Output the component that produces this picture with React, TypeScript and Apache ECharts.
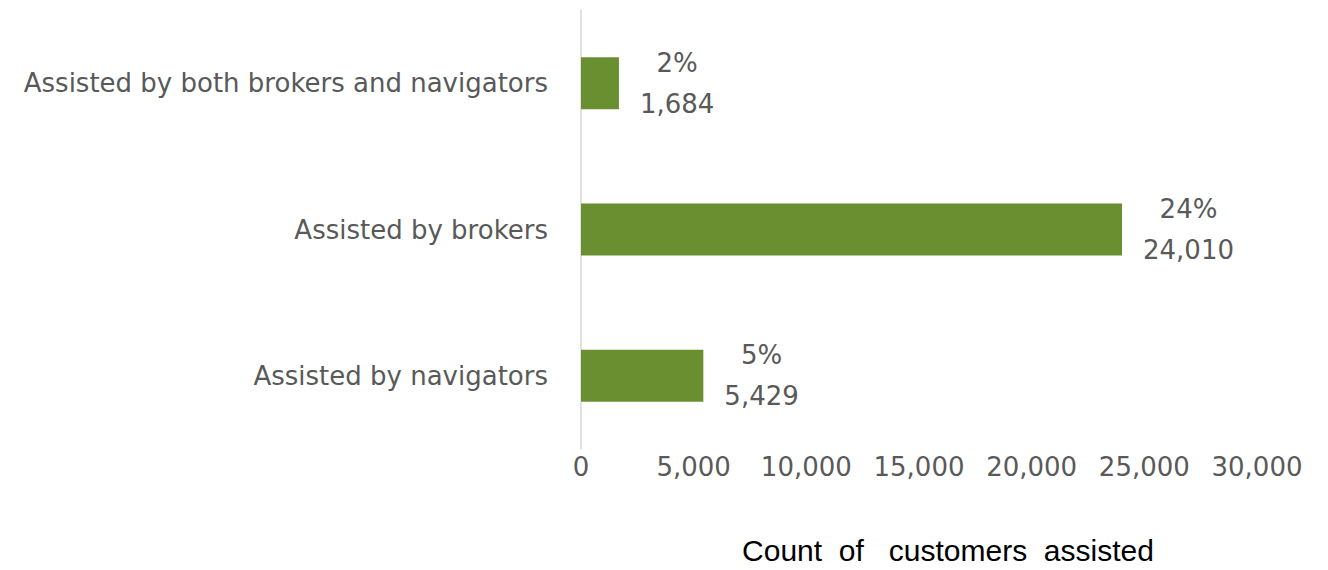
import React, { useEffect, useRef } from "react";
import * as echarts from "echarts";

// Bottom-to-top order, as ECharts draws category axes
const categories = [
  "Assisted by navigators",
  "Assisted by brokers",
  "Assisted by both brokers and navigators",
];
const counts = [5429, 24010, 1684];
const shares = ["5%", "24%", "2%"];
const axisMax = 30000;
const axisInterval = 5000;
const axisTitle = "Count  of   customers  assisted";

const fmt = (v: number) => v.toLocaleString("en-US");

export default function App() {
  const ref = useRef<HTMLDivElement>(null);
  useEffect(() => {
    if (!ref.current) return;
    const chart = echarts.init(ref.current, undefined, { renderer: "svg" });
    const font = "'DejaVu Sans', sans-serif";
    const titleFont = "'Liberation Sans', Arial, sans-serif";
    chart.setOption({
      animation: false,
      backgroundColor: "#ffffff",
      grid: { left: 581, right: 71, top: 10, bottom: 120, containLabel: false },
      xAxis: {
        type: "value",
        min: 0,
        max: axisMax,
        interval: axisInterval,
        axisLine: { show: false },
        axisTick: { show: false },
        splitLine: { show: false },
        axisLabel: {
          formatter: (v: number) => fmt(v),
          fontSize: 26,
          fontFamily: font,
          color: "#595959",
          margin: 5,
        },
        name: axisTitle,
        nameLocation: "middle",
        nameGap: 86,
        nameTextStyle: {
          fontSize: 30,
          fontFamily: titleFont,
          color: "#000000",
          padding: [0, 0, 0, 58],
        },
      },
      yAxis: {
        type: "category",
        data: categories,
        axisLine: { show: true, lineStyle: { color: "#d9d9d9", width: 1.5 } },
        axisTick: { show: false },
        splitLine: { show: false },
        axisLabel: {
          fontSize: 26,
          fontFamily: font,
          color: "#595959",
          margin: 33,
        },
      },
      series: [
        {
          type: "bar",
          data: counts,
          barWidth: 52,
          itemStyle: { color: "#6a8f31" },
          label: {
            show: true,
            position: "right",
            distance: 21,
            formatter: (p: any) =>
              `{a|${shares[p.dataIndex]}}\n{a|${fmt(counts[p.dataIndex])}}`,
            rich: {
              a: {
                align: "center",
                fontSize: 26,
                lineHeight: 41,
                fontFamily: font,
                color: "#595959",
              },
            },
          },
        },
      ],
    });
    return () => chart.dispose();
  }, []);
  return (
    <div
      ref={ref}
      style={{ position: "fixed", left: 0, top: 0, width: 1328, height: 570 }}
    />
  );
}
